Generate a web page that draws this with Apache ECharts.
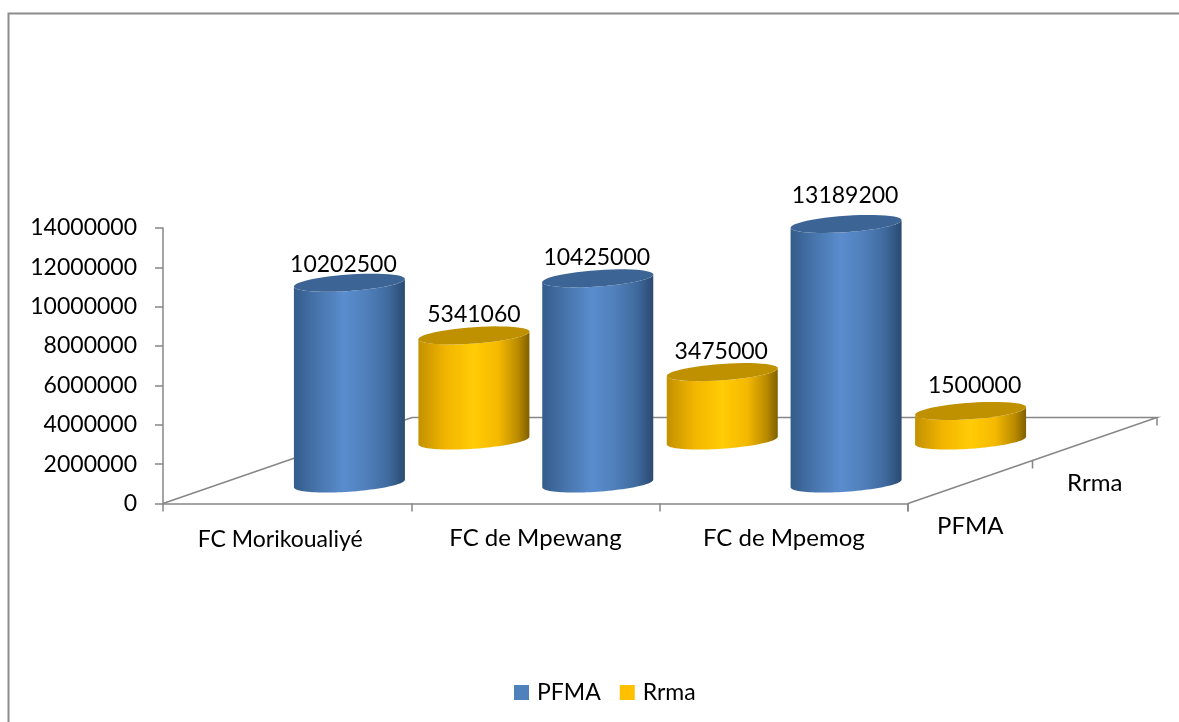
<!DOCTYPE html>
<html>
<head>
<meta charset="utf-8">
<style>html,body{margin:0;padding:0;background:#fff}#c{width:1179px;height:722px}</style>
<script src="https://cdn.jsdelivr.net/npm/echarts@6/dist/echarts.min.js"></script>
</head>
<body>
<div id="c"></div>
<script>
var categories = ['FC Morikoualiyé', 'FC de Mpewang', 'FC de Mpemog'];
var depthNames = ['PFMA', 'Rrma'];
var pfmaValues = [10202500, 10425000, 13189200];
var rrmaValues = [5341060, 3475000, 1500000];

// layout of the pseudo-3D floor and cylinders
var FONT = 'Lato';
var AXIS = '#868686';
var depthX = 249, depthY = 86, baseShift = 1.5;
var halfW = 55.5, ellipseB = 8.2, tilt = 3.8;
var pfmaNudge = [[-6, -18.5], [-1, -21], [-1, -28]];
var rrmaNudge = [[0, -21], [-1, -20.5], [4, -25]];

var blueBody = [[0,'#345c8b'],[0.2,'#4673aa'],[0.45,'#5a8dce'],[0.65,'#5080bb'],[0.85,'#3f6a9e'],[1,'#2b4a70']];
var yellowBody = [[0,'#c39100'],[0.25,'#f2b500'],[0.5,'#ffcc05'],[0.72,'#f5b900'],[0.9,'#b98a00'],[1,'#7f6000']];

function grad(stops){
  return {type:'linear',x:0,y:0,x2:1,y2:0,colorStops:stops.map(function(s){return {offset:s[0],color:s[1]};})};
}
function arc(cx, cy, from, to){
  var pts = [];
  for (var i = 0; i <= 48; i++){
    var t = from + (to - from) * i / 48;
    pts.push([cx + halfW * Math.cos(t), cy - tilt * Math.cos(t) + ellipseB * Math.sin(t)]);
  }
  return pts;
}
function cylinder(depth, stops, capColor, nudges){
  return function(params, api){
    var cat = api.value(0), val = api.value(1);
    var zero = api.coord([cat, 0]), top = api.coord([cat, val]);
    var cx = zero[0] + depth * depthX;
    var by = zero[1] - depth * depthY + baseShift;
    var ty = top[1] - depth * depthY + baseShift;
    var body = arc(cx, by, 0, Math.PI).concat(arc(cx, ty, Math.PI, 0));
    var n = nudges[params.dataIndex];
    return {type:'group', children:[
      {type:'polygon', shape:{points:body}, style:{fill:grad(stops)}},
      {type:'polygon', shape:{points:arc(cx, ty, 0, Math.PI*2)}, style:{fill:capColor}},
      {type:'text', style:{text:String(val), x:cx+n[0], y:ty+n[1], fill:'#000', font:'23px '+FONT, align:'center', verticalAlign:'middle'}}
    ]};
  };
}
function floor(params, api){
  var c = api.coord([0, 0]), bw = api.size([1, 0])[0], n = categories.length;
  var x0 = c[0] - bw / 2, y0 = c[1], x1 = x0 + bw * n;
  var ls = {stroke:AXIS, lineWidth:1.5, fill:null};
  var kids = [
    {type:'polyline', shape:{points:[[x0,y0],[x0+depthX,y0-depthY],[x1+depthX,y0-depthY],[x1,y0]]}, style:ls}
  ];
  [0, 0.5, 1].forEach(function(f){
    var px = x1 + f * depthX, py = y0 - f * depthY;
    kids.push({type:'line', shape:{x1:px,y1:py,x2:px,y2:py+8}, style:ls});
  });
  depthNames.forEach(function(name, i){
    var f = (i + 0.5) / depthNames.length;
    kids.push({type:'text', style:{text:name, x:x1+f*depthX, y:y0-f*depthY+44.5, fill:'#000', font:'24px '+FONT, align:'center', verticalAlign:'middle'}});
  });
  return {type:'group', children:kids};
}
function pairs(arr){ return arr.map(function(v,i){ return [i,v]; }); }

var chart = echarts.init(document.getElementById('c'), null, {renderer:'canvas'});
chart.setOption({
  animation:false,
  backgroundColor:'#fff',
  graphic:[{type:'rect', silent:true, shape:{x:8.5,y:13.5,width:1400,height:1000}, style:{stroke:'#8c8c8c',lineWidth:2,fill:null}}],
  grid:{left:163, top:228, width:745, height:275.5},
  legend:{
    data:['PFMA','Rrma'], left:509, top:676, icon:'rect', itemWidth:15, itemHeight:15, itemGap:19,
    textStyle:{fontFamily:FONT, fontSize:23, color:'#000', padding:[0,0,0,3]}
  },
  xAxis:{
    type:'category',
    data:categories.map(function(name, i){
      return i === 0 ? {value:name, textStyle:{fontSize:23, padding:[2,14,0,0]}} : name;
    }),
    axisLine:{lineStyle:{color:AXIS,width:1.5}},
    axisTick:{show:true,length:8,lineStyle:{color:AXIS,width:1.5}},
    axisLabel:{color:'#000',fontFamily:FONT,fontSize:24,margin:23,interval:0},
    splitLine:{show:false}
  },
  yAxis:{
    type:'value', min:0, max:14000000, interval:2000000,
    axisLine:{show:true,lineStyle:{color:AXIS,width:1.5}},
    axisTick:{show:true,length:8,lineStyle:{color:AXIS,width:1.5}},
    axisLabel:{color:'#000',fontFamily:FONT,fontSize:23,margin:26,formatter:function(v){return String(v);}},
    splitLine:{show:false}
  },
  series:[
    {type:'custom', name:'floor', silent:true, clip:false, z:1, renderItem:floor, data:[[0,0]]},
    {type:'custom', name:'PFMA', clip:false, z:3, itemStyle:{color:'#4f81bd'}, renderItem:cylinder(0.25, blueBody, '#3c6595', pfmaNudge), data:pairs(pfmaValues)},
    {type:'custom', name:'Rrma', clip:false, z:2, itemStyle:{color:'#ffc000'}, renderItem:cylinder(0.75, yellowBody, '#bf9000', rrmaNudge), data:pairs(rrmaValues)}
  ]
});
</script>
</body>
</html>
